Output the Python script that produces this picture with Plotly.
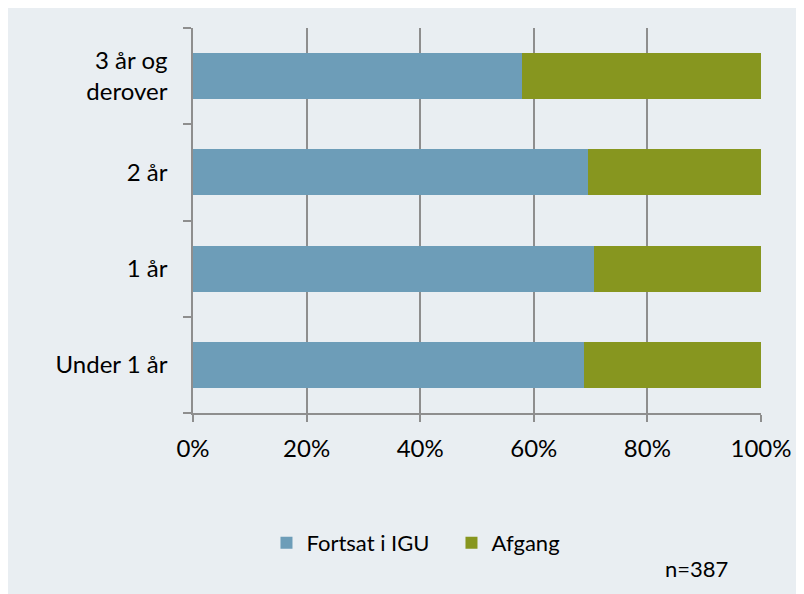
import plotly.graph_objects as go

categories = ["Under 1 år", "1 år", "2 år", "3 år og<br>derover"]
fortsat = [0.688, 0.706, 0.696, 0.580]
afgang = [round(1 - v, 3) for v in fortsat]
series_names = ["Fortsat i IGU", "Afgang"]
x_ticks = [0, 0.2, 0.4, 0.6, 0.8, 1.0]
note_text = "n=387"

BG = "#e9eef2"
BLUE = "#6d9db8"
GREEN = "#87961f"
GRID = "#8e8e8e"
FONT = "Lato, Open Sans, sans-serif"

W, H = 796, 587
L, R, T, B = 185, 39, 20, 182
pw, ph = W - L - R, H - T - B

def px_x(p):
    return (p - L) / pw

def px_y(p):
    return (H - B - p) / ph

fig = go.Figure()
fig.add_trace(go.Bar(y=categories, x=fortsat, name=series_names[0], orientation="h",
                     marker=dict(color=BLUE, line=dict(width=0))))
fig.add_trace(go.Bar(y=categories, x=afgang, name=series_names[1], orientation="h",
                     marker=dict(color=GREEN, line=dict(width=0))))

fig.update_layout(
    width=W, height=H,
    margin=dict(l=L, r=R, t=T, b=B, pad=0),
    barmode="stack", bargap=0.52,
    paper_bgcolor=BG, plot_bgcolor=BG,
    font=dict(family=FONT, size=24, color="#000000"),
    showlegend=True,
    legend=dict(orientation="h", x=px_x(259), y=px_y(535), xanchor="left", yanchor="middle",
                font=dict(size=22), bgcolor="rgba(0,0,0,0)", itemwidth=30,
                traceorder="normal", entrywidthmode="pixels", entrywidth=140),
    annotations=[dict(text=note_text, xref="paper", yref="paper", x=px_x(692), y=px_y(560),
                      xanchor="center", yanchor="middle", showarrow=False,
                      font=dict(size=22, family=FONT, color="#000000"))],
)
fig.update_xaxes(range=[0, 1], tickvals=x_ticks, tickformat=".0%",
                 showgrid=True, gridcolor=GRID, gridwidth=1.5,
                 showline=True, linecolor=GRID, linewidth=1.5,
                 ticks="outside", ticklen=7, tickcolor=GRID, tickwidth=1.5,
                 zeroline=False, fixedrange=True, ticklabelstandoff=6)
fig.update_yaxes(type="category", categoryorder="array", categoryarray=categories,
                 showgrid=False, showline=True, linecolor=GRID, linewidth=1.5,
                 ticks="outside", ticklen=8, tickcolor=GRID, tickwidth=1.5,
                 tickson="boundaries", ticklabelstandoff=19, zeroline=False)

fig.write_html("out.html")
